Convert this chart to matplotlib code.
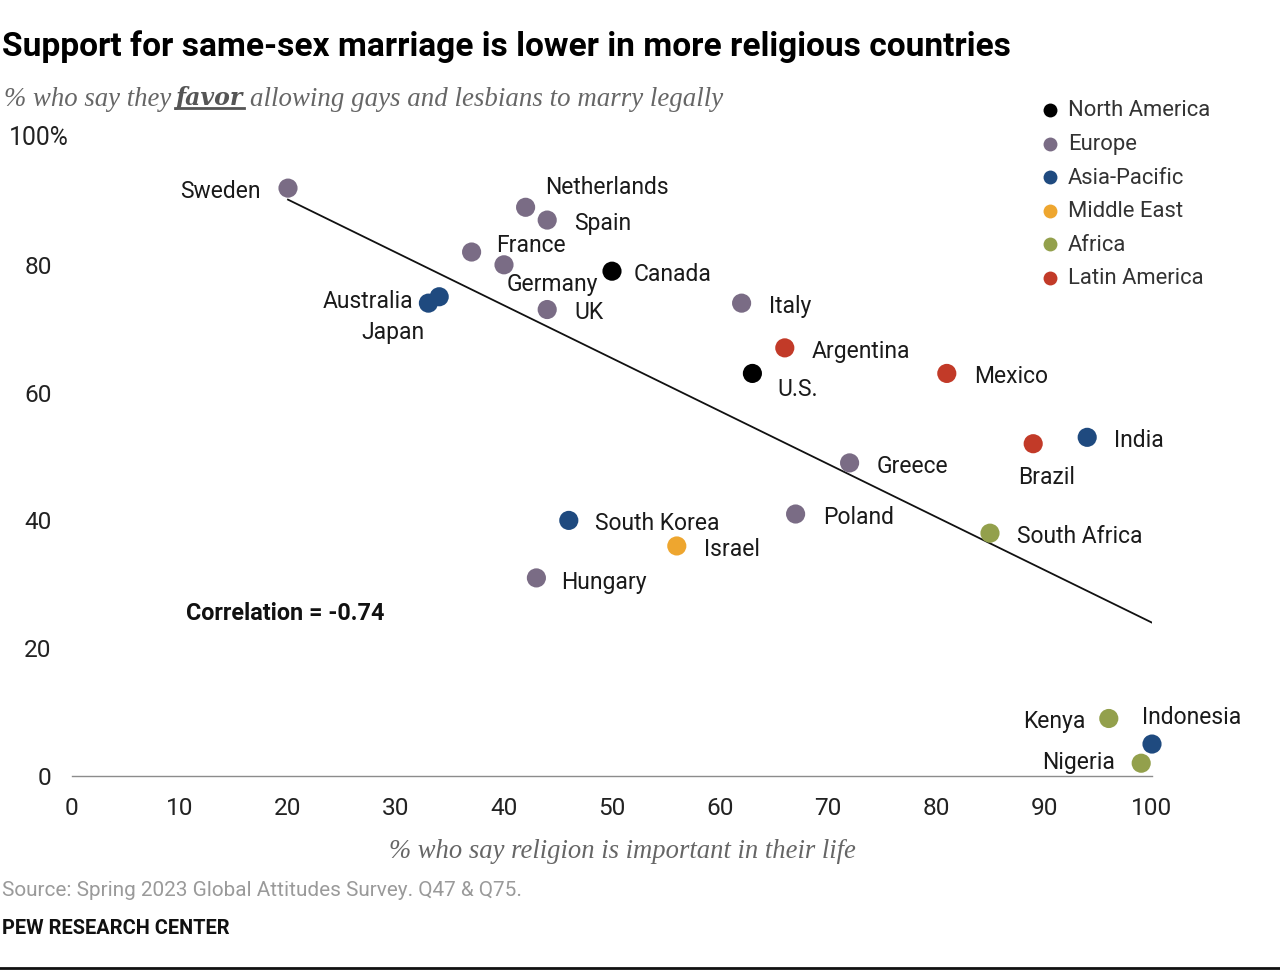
import matplotlib
matplotlib.use('Agg')
import matplotlib.pyplot as plt

W, H = 1280, 976
countries = ['Sweden','Netherlands','Spain','France','Germany','Canada','Australia','Japan','UK','Italy','Argentina','U.S.','Mexico','India','Brazil','Greece','South Korea','Poland','Israel','South Africa','Hungary','Kenya','Indonesia','Nigeria']
religion = [20,42,44,37,40,50,34,33,44,62,66,63,81,94,89,72,46,67,56,85,43,96,100,99]
favor = [92,89,87,82,80,79,75,74,73,74,67,63,63,53,52,49,40,41,36,38,31,9,5,2]
regions = ['E','E','E','E','E','N','A','A','E','E','L','N','L','A','L','E','A','E','M','F','E','F','A','F']
legend_names = ['North America','Europe','Asia-Pacific','Middle East','Africa','Latin America']
legend_keys = ['N','E','A','M','F','L']
palette = {'N':'#000000','E':'#7a6c85','A':'#1f4a7f','M':'#eea62f','F':'#93a04c','L':'#c23a28'}
trend_x = [20,100]
trend_y = [90.2,24]
xticks = list(range(0,101,10))
yticks = [0,20,40,60,80]
# label anchor pixel positions (left edge, vcenter)
label_pos = {'Sweden':(180,191.5),'Netherlands':(545,187.5),'Spain':(574,223.5),'France':(496,245),'Germany':(507,284.5),'Canada':(634,274.5),'Australia':(323,301),'Japan':(361,332),'UK':(574,312.5),'Italy':(769,306.5),'Argentina':(812,351.5),'U.S.':(777,389.5),'Mexico':(974,376.5),'India':(1114,440.5),'Brazil':(1018,477.5),'Greece':(877,466.5),'South Korea':(595,523.5),'Poland':(823,517.5),'Israel':(704,549.5),'South Africa':(1017,536.5),'Hungary':(561,582.5),'Kenya':(1023,721.5),'Indonesia':(1142,717),'Nigeria':(1042,762.5)}

plt.rcParams['font.family'] = ['Roboto','DejaVu Sans']
fig = plt.figure(figsize=(W/100,H/100),dpi=100)
x0,x1 = 72,1152
y0,y100 = 776,137
ax = fig.add_axes([x0/W,1-y0/H,(x1-x0)/W,(y0-y100)/H])
ax.set_xlim(0,100); ax.set_ylim(0,100)
ax.patch.set_alpha(0)
for s in ['top','left','right']: ax.spines[s].set_visible(False)
ax.spines['bottom'].set_color('#8c8c8c'); ax.spines['bottom'].set_linewidth(1)
ax.set_xticks(xticks); ax.set_yticks(yticks)
ax.tick_params(length=0,labelsize=17.6,pad=15,colors='#222222')
ax.tick_params(axis='y',pad=14.5)
ax.plot(trend_x,trend_y,color='#111111',lw=1.3,zorder=2)
ax.scatter(religion,favor,s=190,c=[palette[r] for r in regions],linewidths=0,zorder=3,clip_on=False)

def T(px,py,s,**k):
    k.setdefault('va','center')
    return fig.text(px/W,1-py/H,s,**k)
for c,(px,py) in label_pos.items():
    T(px,py,c,fontsize=16.5,color='#1a1a1a')
T(9,138,'100%',fontsize=17.8,color='#222222')
T(186,613,'Correlation = -0.74',fontsize=16.8,fontweight='bold',color='#111111')
T(2,47,'Support for same-sex marriage is lower in more religious countries',fontsize=24.1,fontweight='bold',color='#000000',family=['Roboto'])
serif = ['Liberation Serif']
sub = dict(fontsize=19.3,style='italic',color='#666666',family=serif)
T(4,99,'% who say they',**sub)
T(175,98,'favor',fontsize=17,style='italic',fontweight='bold',color='#555555',family=['DejaVu Serif'])
fig.add_artist(plt.Line2D([175/W,244/W],[1-108/H]*2,color='#555555',lw=2))
T(250,99,'allowing gays and lesbians to marry legally',**dict(sub,fontsize=19.4))
T(389,852,'% who say religion is important in their life',**dict(sub,fontsize=19.2))
T(2,890,'Source: Spring 2023 Global Attitudes Survey. Q47 & Q75.',fontsize=14.95,color='#9a9a9a')
T(2,928,'PEW RESEARCH CENTER',fontsize=14.4,fontweight='bold',color='#111111')
fig.add_artist(plt.Line2D([0,1],[1-968/H]*2,color='#111111',lw=2))
for i,(n,k) in enumerate(zip(legend_names,legend_keys)):
    py = 110+i*33.6
    fig.add_artist(plt.Line2D([1049.5/W],[1-py/H],marker='o',ms=10,mew=0,color=palette[k]))
    T(1068,py+1,n,fontsize=15.8,color='#333333')
fig.savefig('out.png',dpi=100)
